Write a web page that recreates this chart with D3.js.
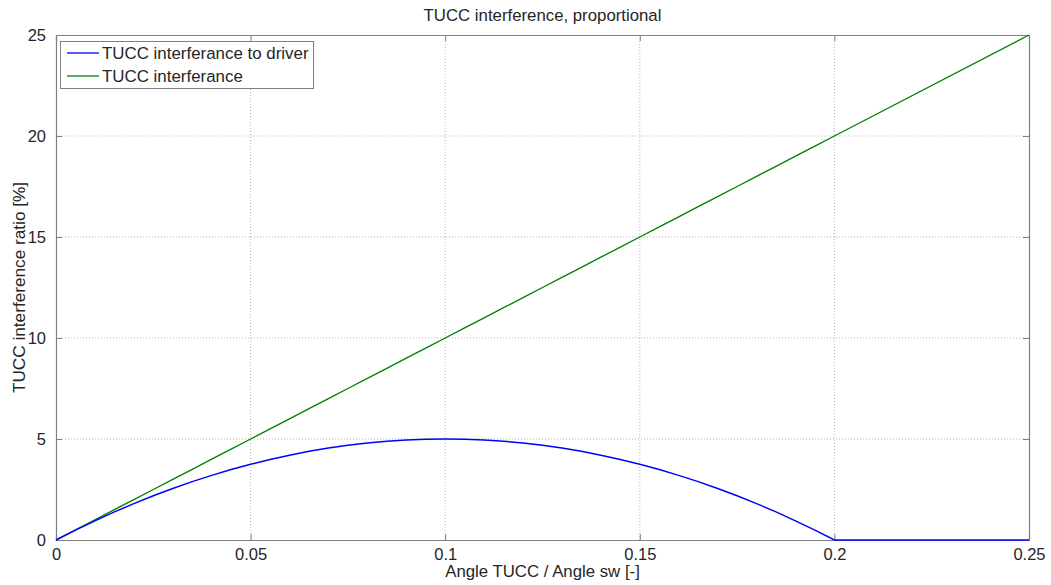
<!DOCTYPE html>
<html>
<head>
<meta charset="utf-8">
<script src="https://cdn.jsdelivr.net/npm/d3@7"></script>
<style>
  body { margin: 0; background: #fff; }
  svg { display: block; font-family: "Liberation Sans", Arial, sans-serif; }
</style>
</head>
<body>
<svg id="chart" width="1051" height="585"></svg>
<script>
// Angle ratio samples (x) and interference ratios in percent
const angleRatio = [0, 0.005, 0.01, 0.015, 0.02, 0.025, 0.03, 0.035, 0.04, 0.045, 0.05,
                    0.055, 0.06, 0.065, 0.07, 0.075, 0.08, 0.085, 0.09, 0.095, 0.10,
                    0.105, 0.11, 0.115, 0.12, 0.125, 0.13, 0.135, 0.14, 0.145, 0.15,
                    0.155, 0.16, 0.165, 0.17, 0.175, 0.18, 0.185, 0.19, 0.195, 0.20, 0.25];
const toDriver   = [0, 0.49, 0.95, 1.39, 1.8, 2.19, 2.55, 2.89, 3.2, 3.49, 3.75,
                    3.99, 4.2, 4.39, 4.55, 4.69, 4.8, 4.89, 4.95, 4.99, 5.0,
                    4.99, 4.95, 4.89, 4.8, 4.69, 4.55, 4.39, 4.2, 3.99, 3.75,
                    3.49, 3.2, 2.89, 2.55, 2.19, 1.8, 1.39, 0.95, 0.49, 0, 0];
const interference = [0, 0.5, 1, 1.5, 2, 2.5, 3, 3.5, 4, 4.5, 5,
                      5.5, 6, 6.5, 7, 7.5, 8, 8.5, 9, 9.5, 10,
                      10.5, 11, 11.5, 12, 12.5, 13, 13.5, 14, 14.5, 15,
                      15.5, 16, 16.5, 17, 17.5, 18, 18.5, 19, 19.5, 20, 25];
const xTicks = [0, 0.05, 0.1, 0.15, 0.2, 0.25];
const yTicks = [0, 5, 10, 15, 20, 25];
const seriesNames = ["TUCC interferance to driver", "TUCC interferance"];
const seriesColors = ["#0000ff", "#008000"];

const svg = d3.select("#chart");
const m = { left: 56, top: 35, right: 1029, bottom: 540 };
const x = d3.scaleLinear().domain([0, 0.25]).range([m.left, m.right]);
const y = d3.scaleLinear().domain([0, 25]).range([m.bottom, m.top]);
const axisColor = "#808080";
const textColor = "#262626";

// Dotted grid
const grid = svg.append("g");
grid.selectAll(".gx").data(xTicks.slice(1, -1)).join("line")
  .attr("x1", d => x(d)).attr("x2", d => x(d))
  .attr("y1", m.top).attr("y2", m.bottom)
  .attr("stroke", "#b4b4b4").attr("stroke-dasharray", "1,2");
grid.selectAll(".gy").data(yTicks.slice(1, -1)).join("line")
  .attr("x1", m.left).attr("x2", m.right)
  .attr("y1", d => y(d)).attr("y2", d => y(d))
  .attr("stroke", "#b4b4b4").attr("stroke-dasharray", "1,2");

// Axes with inward ticks
const fmt = d => d3.format("")(d);
const axes = svg.append("g");
const bottomAxis = axes.append("g").attr("transform", `translate(0,${m.bottom})`)
  .call(d3.axisBottom(x).tickValues(xTicks).tickSize(-6).tickPadding(8).tickFormat(fmt));
axes.append("g").attr("transform", `translate(0,${m.top})`)
  .call(d3.axisTop(x).tickValues(xTicks).tickSize(-6).tickFormat(""));
axes.append("g").attr("transform", `translate(${m.left},0)`)
  .call(d3.axisLeft(y).tickValues(yTicks).tickSize(-6).tickPadding(10).tickFormat(fmt));
axes.append("g").attr("transform", `translate(${m.right},0)`)
  .call(d3.axisRight(y).tickValues(yTicks).tickSize(-6).tickFormat(""));
axes.selectAll("path, line").attr("stroke", axisColor);
axes.selectAll("path.domain").attr("stroke-width", 1.2);
axes.selectAll("text").attr("fill", textColor).style("font-size", "16.5px")
  .style("font-family", "Liberation Sans, Arial, sans-serif");
bottomAxis.selectAll("text").attr("dy", "0.72em");

// Series lines
const line = d3.line().x((d, i) => x(angleRatio[i])).y(d => y(d));
svg.append("path").attr("d", line(interference))
  .attr("fill", "none").attr("stroke", seriesColors[1]).attr("stroke-width", 1.3);
svg.append("path").attr("d", line(toDriver))
  .attr("fill", "none").attr("stroke", seriesColors[0]).attr("stroke-width", 1.5);

// Title and axis labels
svg.append("text").attr("x", (m.left + m.right) / 2).attr("y", 21)
  .attr("text-anchor", "middle").attr("fill", textColor).style("font-size", "16.8px")
  .text("TUCC interference, proportional");
svg.append("text").attr("x", (m.left + m.right) / 2).attr("y", 577)
  .attr("text-anchor", "middle").attr("fill", textColor).style("font-size", "16.8px")
  .text("Angle TUCC / Angle sw [-]");
svg.append("text")
  .attr("transform", `translate(25,${(m.top + m.bottom) / 2}) rotate(-90)`)
  .attr("text-anchor", "middle").attr("fill", textColor).style("font-size", "17.2px")
  .text("TUCC interference ratio [%]");

// Legend
const lg = svg.append("g");
lg.append("rect").attr("x", 60.5).attr("y", 41.5).attr("width", 253).attr("height", 47)
  .attr("fill", "#fff").attr("stroke", "#808080");
seriesNames.forEach((name, i) => {
  const yy = 53 + i * 23;
  lg.append("line").attr("x1", 67).attr("x2", 99).attr("y1", yy).attr("y2", yy)
    .attr("stroke", seriesColors[i]).attr("stroke-width", 1.3);
  lg.append("text").attr("x", 102).attr("y", yy).attr("dy", "0.35em")
    .attr("fill", textColor).style("font-size", "16.9px").text(name);
});
</script>
</body>
</html>
